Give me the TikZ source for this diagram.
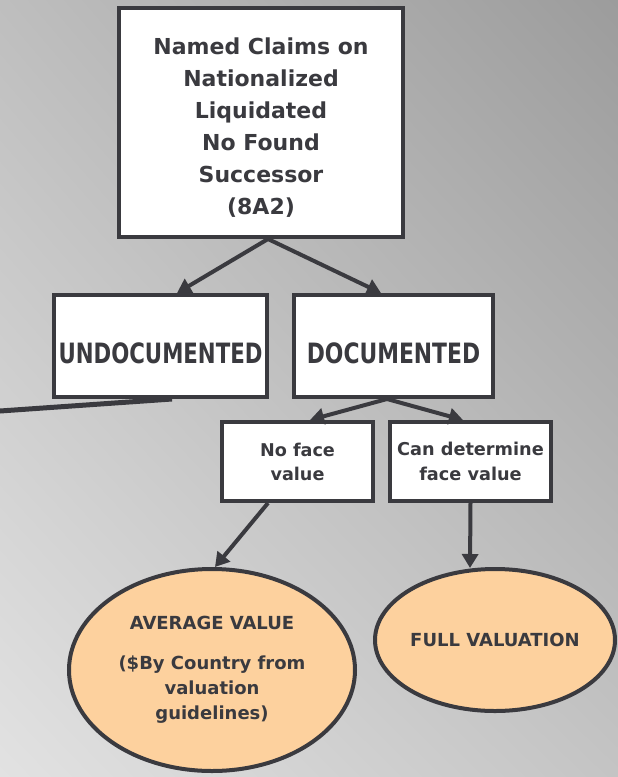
\documentclass[tikz,border=0pt]{standalone}
\usepackage{fontspec}
\setmainfont{DejaVu Sans}
\usetikzlibrary{arrows.meta,shapes.geometric,calc,shadings}
\definecolor{ink}{HTML}{3A3A3F}
\definecolor{peach}{HTML}{FDD19E}
\definecolor{bgul}{HTML}{BEBEBE}
\definecolor{bgur}{HTML}{9C9C9C}
\definecolor{bgll}{HTML}{E2E2E2}
\definecolor{bglr}{HTML}{C4C4C4}
\tikzset{
  box/.style={draw=ink, line width=4pt, fill=white, rectangle, inner sep=0pt,
    text=ink, font=\bfseries},
  oval/.style={draw=ink, line width=4pt, fill=peach, ellipse, inner sep=0pt,
    text=ink, font=\bfseries, align=center},
  conn/.style={draw=ink, line width=4pt, -{Triangle[length=14pt,width=16pt]}},
  plainconn/.style={draw=ink, line width=5pt}
}
\begin{document}
\begin{tikzpicture}[x=1pt,y=-1pt]
\useasboundingbox (0,0) rectangle (618,777);
\shade[upper left=bgul, upper right=bgur, lower left=bgll, lower right=bglr]
  (0,0) rectangle (618,777);

\node[box, align=center, minimum width=284pt, minimum height=229pt,
  font=\bfseries\fontsize{22}{32}\selectfont] (top) at (261,122.5)
  {\rule{0pt}{26pt}Named Claims on\\Nationalized\\Liquidated\\No Found\\Successor\\(8A2)};
\node[box, minimum width=213pt, minimum height=102pt, text height=35pt, text depth=0pt,
  font=\bfseries\fontsize{28}{30}\selectfont] (undoc) at (160.5,346)
  {\scalebox{0.76}[1]{UNDOCUMENTED}};
\node[box, minimum width=199pt, minimum height=102pt, text height=35pt, text depth=0pt,
  font=\bfseries\fontsize{28}{30}\selectfont] (doc) at (393.5,346)
  {\scalebox{0.78}[1]{DOCUMENTED}};
\node[box, align=center, minimum width=151pt, minimum height=79pt,
  font=\bfseries\fontsize{17.6}{24}\selectfont] (nofv) at (297.5,461.5) {No face\\value};
\node[box, align=center, minimum width=161pt, minimum height=79pt,
  font=\bfseries\fontsize{17.7}{25}\selectfont] (canfv) at (470.5,461.5) {Can determine\\face value};
\node[oval, minimum width=286pt, minimum height=202pt,
  font=\bfseries\fontsize{18}{25}\selectfont] (avg) at (212,670)
  {AVERAGE VALUE\\[15pt](\$By Country from\\valuation\\guidelines)};
\node[oval, minimum width=240pt, minimum height=142pt,
  font=\bfseries\fontsize{18}{25}\selectfont] (full) at (495,640) {FULL VALUATION};

\coordinate (offleft) at (0,411);

\draw[conn] ([xshift=7pt]top.south) -- ([xshift=16.5pt]undoc.north);
\draw[conn] ([xshift=7pt]top.south) -- ([xshift=-12.5pt]doc.north);
\draw[conn] ([xshift=-6.5pt]doc.south) -- ([xshift=12.5pt]nofv.north);
\draw[conn] ([xshift=-6.5pt]doc.south) -- ([xshift=-7.5pt]canfv.north);
\draw[conn] ([xshift=-29.5pt]nofv.south) -- ([xshift=3pt]avg.north);
\draw[conn] ([xshift=0pt]canfv.south) -- ([xshift=-25pt,yshift=-1pt]full.north);
\draw[plainconn] ([xshift=11.5pt]undoc.south) -- (offleft);
\end{tikzpicture}
\end{document}
